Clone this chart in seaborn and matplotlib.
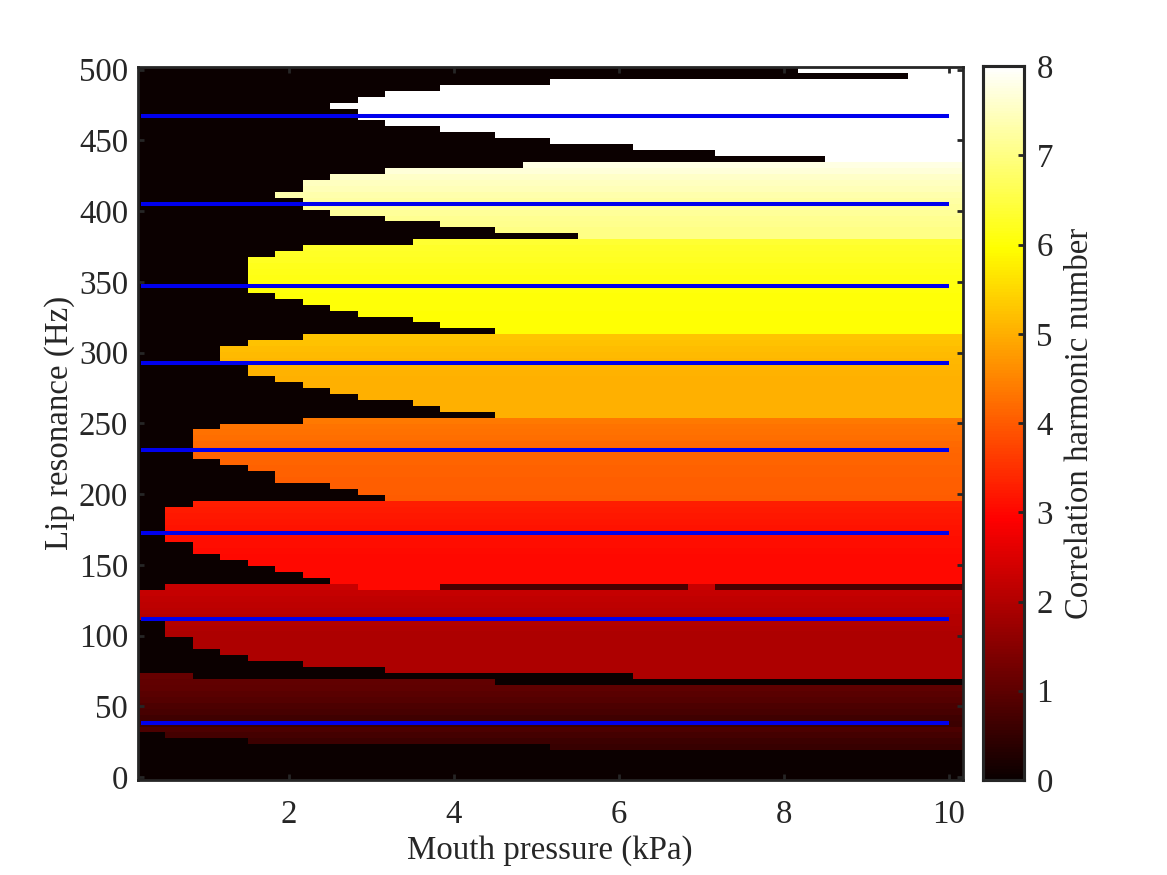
import numpy as np
import pandas as pd
import matplotlib
matplotlib.use("Agg")
import matplotlib.pyplot as plt
import seaborn as sns

sns.set_theme(style="white")
plt.rcParams["font.family"] = ["Liberation Serif", "DejaVu Serif"]

INK = "#262626"

# Pressure columns (kPa) and lip resonance rows (Hz, top row first)
pressure = [k / 3 for k in range(1, 31)]
resonance = [499.8 - 4.2 * r for r in range(120)]

# First oscillating column in each row (rows listed from the top)
row_start = [
    24, 28, 15, 11, 9, 8, 7, 8, 8, 9, 11, 13, 15, 18, 21, 25,
    14, 9, 7, 6, 6, 5, 6, 6, 7, 9, 11, 13, 16,
    10, 6, 5, 4, 4, 4, 4, 4, 4, 5, 6, 7, 8, 10, 11, 13,
    6, 4, 3, 3, 3, 4, 4, 5, 6, 7, 8, 10, 11, 13,
    6, 3, 2, 2, 2, 2, 2, 3, 4, 5, 5, 7, 8, 9,
    2, 1, 1, 1, 1, 1, 1, 2, 2, 3, 4, 5, 6, 7,
    1, 0, 0, 0, 0, 0, 1, 1, 1, 2, 2, 3, 4, 6, 9,
    0, 0, 0, 0, 0, 0, 0, 0, 0, 0, 1, 4, 15,
    30, 30, 30, 30, 30,
]

# Correlation harmonic number reached in each row
row_value = [
    8, 8, 8, 8, 8, 8, 8, 8, 8, 8, 8, 8, 8, 8, 8, 8,
    7.76, 7.66, 7.56, 7.48, 7.41, 7.34, 7.27, 7.21, 7.16, 7.11, 7.07, 7.03, 7.0,
    6.35, 6.3, 6.26, 6.22, 6.18, 6.14, 6.1, 6.07, 6.04, 6.02, 6.0, 6.0, 5.99, 5.99, 5.98, 5.98,
    5.27, 5.22, 5.18, 5.14, 5.1, 5.07, 5.05, 5.03, 5.02, 5.01, 5.0, 5.0, 5.0, 5.0,
    4.35, 4.3, 4.26, 4.22, 4.18, 4.15, 4.12, 4.1, 4.08, 4.07, 4.06, 4.05, 4.04, 4.03,
    3.28, 3.24, 3.2, 3.17, 3.14, 3.11, 3.09, 3.07, 3.05, 3.03, 3.02, 3.01, 3.0, 3.0,
    2.25, 2.22, 2.18, 2.14, 2.1, 2.05, 2.0, 1.97, 1.96, 1.95, 1.95, 1.95, 1.95, 1.95, 1.95,
    1.1, 1.05, 1.03, 0.95, 0.88, 0.8, 0.72, 0.65, 0.6, 0.8, 0.7, 0.6, 0.55,
    0, 0, 0, 0, 0,
]

# Rows whose columns do not follow a single start and value
row_87 = [0] + [2.25] * 7 + [3.0] * 3 + [0.75] * 9 + [2.25] + [0.75] * 9
row_102 = [1.1, 1.1] + [0] * 16 + [1.95] * 12
row_103 = [1.05] * 13 + [0] * 17

# Horizontal reference lines (Hz)
line_resonance = [467, 405, 347, 293, 231, 172.5, 112, 38]
line_pressure = [0.2, 10]

x_ticks = [2, 4, 6, 8, 10]
y_ticks = [0, 50, 100, 150, 200, 250, 300, 350, 400, 450, 500]
cbar_ticks = [0, 1, 2, 3, 4, 5, 6, 7, 8]

# Build the table
table = np.array(
    [[v if c >= s else 0.0 for c in range(len(pressure))]
     for s, v in zip(row_start, row_value)],
    dtype=float,
)
table[87] = row_87
table[102] = row_102
table[103] = row_103
frame = pd.DataFrame(table, index=resonance, columns=pressure)

W, H = 1167, 875
fig = plt.figure(figsize=(W / 100, H / 100), dpi=100)
ax = fig.add_axes([137.8 / W, 1 - 780 / H, 825 / W, 713 / H])
cax = fig.add_axes([983 / W, 1 - 780 / H, 41 / W, 714 / H])

sns.heatmap(frame, ax=ax, cbar_ax=cax, cmap="hot", vmin=0, vmax=8,
            xticklabels=False, yticklabels=False, cbar_kws={"ticks": cbar_ticks})


def xpos(p):
    return (p - (pressure[0] - 1 / 6)) * 3


def ypos(f):
    return (resonance[0] + 2.1 - f) / 4.2


for f in line_resonance:
    ax.plot([xpos(p) for p in line_pressure], [ypos(f), ypos(f)],
            color="#0000ee", lw=2.9, solid_capstyle="butt")

FS = 23.7
ax.set_axisbelow(False)
cax.set_axisbelow(False)
ax.set_xticks([xpos(p) for p in x_ticks], labels=[str(v) for v in x_ticks])
ax.set_yticks([ypos(f) for f in y_ticks], labels=[str(v) for v in y_ticks])
ax.tick_params(axis="x", pad=14)
ax.tick_params(axis="y", pad=7)
ax.tick_params(axis="both", direction="in", length=4.5, width=2, color=INK,
               labelcolor=INK, labelsize=FS, top=True, right=True, left=True, bottom=True)
ax.set_xlabel("Mouth pressure (kPa)", fontsize=FS, color=INK)
ax.set_ylabel("Lip resonance (Hz)", fontsize=FS, color=INK)
ax.xaxis.set_label_coords((550 - 137.8) / 825, -(851 - 780) / 713, transform=ax.transAxes)
ax.xaxis.label.set_va("center")
ax.yaxis.set_label_coords(-(137.8 - 60) / 825, (780 - 423) / 713, transform=ax.transAxes)
ax.yaxis.label.set_va("center")
for s in ax.spines.values():
    s.set_visible(True)
    s.set_color(INK)
    s.set_linewidth(2)

cax.tick_params(axis="y", direction="in", length=4.5, width=2, color=INK,
                labelcolor=INK, labelsize=FS, right=True, left=False, pad=9)
cax.set_ylabel("Correlation harmonic number", fontsize=FS, color=INK)
cax.yaxis.set_label_coords((1080 - 983) / 41, (780 - 423) / 714, transform=cax.transAxes)
cax.yaxis.label.set_va("center")
for s in cax.spines.values():
    s.set_visible(True)
    s.set_color(INK)
    s.set_linewidth(2.2)

fig.savefig("out.png", dpi=100, facecolor="white")
